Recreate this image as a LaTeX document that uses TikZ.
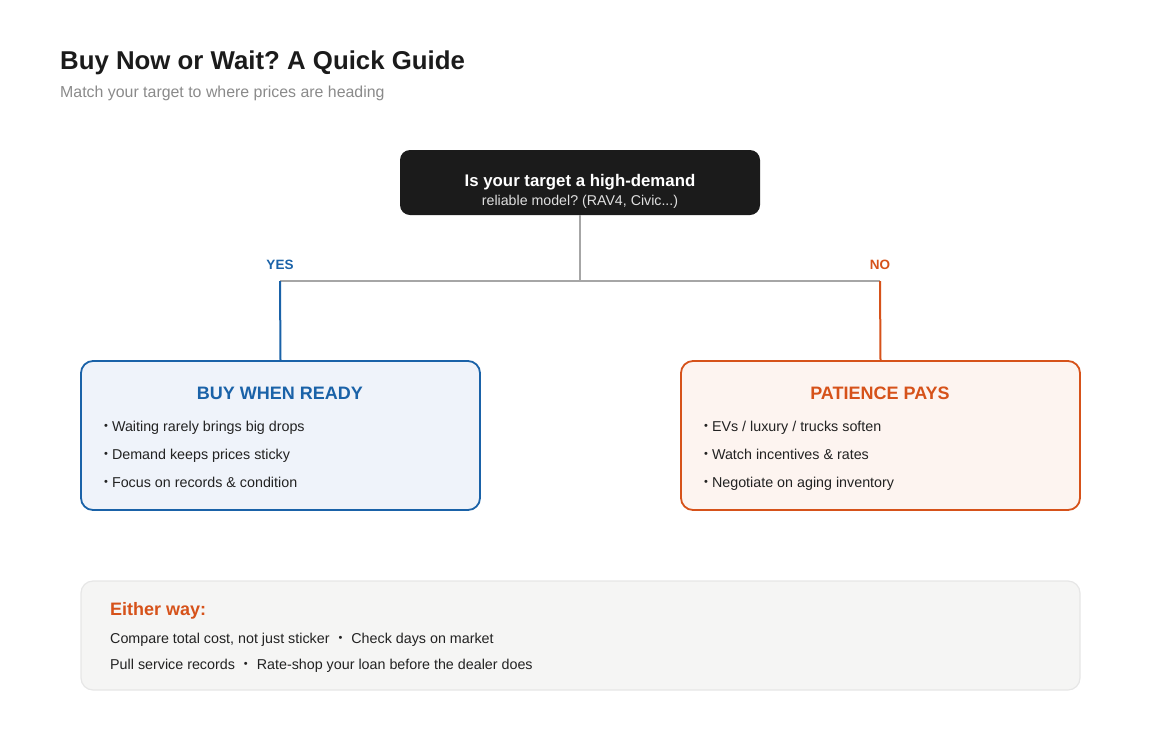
\documentclass[tikz,border=0pt]{standalone}
\usepackage{fontspec}
\setmainfont{Liberation Sans}
\usepackage{xcolor}
\usetikzlibrary{positioning}
\definecolor{guideink}{HTML}{1B1B1B}
\definecolor{guidegray}{HTML}{8A8A8A}
\definecolor{guideline}{HTML}{A6A6A6}
\definecolor{guideblue}{HTML}{1A62A8}
\definecolor{guideorange}{HTML}{D6521A}
\definecolor{bluefill}{HTML}{EFF3FA}
\definecolor{orangefill}{HTML}{FDF4F0}
\definecolor{tipfill}{HTML}{F5F5F4}
\definecolor{tipdraw}{HTML}{E6E6E6}
\definecolor{bodyink}{HTML}{222222}
\frenchspacing
\newcommand\dotmark{\raisebox{1.2pt}{\fontsize{11}{12}\selectfont•}}

\begin{document}
\begin{tikzpicture}[
  x=1pt, y=-1pt,
  headline/.style={anchor=base west, inner sep=0pt, font=\fontsize{25.8}{30}\selectfont\bfseries, text=guideink},
  subline/.style={anchor=base west, inner sep=0pt, font=\fontsize{15.9}{19}\selectfont, text=guidegray},
  question/.style={fill=guideink, rounded corners=10pt, minimum width=360pt, minimum height=65pt},
  asktext/.style={inner sep=0pt, anchor=base},
  choice/.style={rounded corners=12pt, line width=1.8pt, minimum width=399pt, minimum height=149pt},
  choicehead/.style={inner sep=0pt, anchor=base, font=\fontsize{18}{21}\selectfont\bfseries},
  bullet/.style={anchor=base west, inner sep=0pt, font=\fontsize{14.3}{17}\selectfont, text=bodyink},
  branch/.style={font=\fontsize{13.5}{15}\selectfont\bfseries, inner sep=0pt, anchor=base},
  stem/.style={draw=guideline, line width=1.6pt},
  leg/.style={line width=2pt}
]
  \useasboundingbox (0,0) rectangle (1160,740);

  \node[headline] (title) at (60,69) {Buy Now or Wait? A Quick Guide};
  \node[subline] (subtitle) at (60,97) {Match your target to where prices are heading};

  % decision
  \node[question] (ask) at (580,182.5) {};
  \node[asktext, text=white, font=\fontsize{16.8}{20}\selectfont\bfseries] (askline1) at (580,186)
    {Is your target a high-demand};
  \node[asktext, text=black!12, font=\fontsize{14.2}{17}\selectfont] (askline2) at (580,205)
    {reliable model? (RAV4, Civic...)};

  \coordinate (split) at (580,281);
  \coordinate (yesturn) at (280,281);
  \coordinate (noturn) at (880,281);

  \node[choice, draw=guideblue, fill=bluefill] (buybox) at (280.5,435.5) {};
  \node[choice, draw=guideorange, fill=orangefill] (waitbox) at (880.5,435.5) {};

  \node[branch, text=guideblue] (yes) at (280,269) {YES};
  \node[branch, text=guideorange] (no) at (880,269) {NO};

  \draw[stem] (ask.south) -- (split);
  \draw[stem] (yesturn) -- (noturn);
  \draw[leg, guideblue] (yesturn) -- (buybox.north);
  \draw[leg, guideorange] (noturn) -- (waitbox.north);

  % yes side
  \node[choicehead, text=guideblue] (buyhead) at (280,399) {BUY WHEN READY};
  \foreach \txt [count=\i] in {Waiting rarely brings big drops,
                               Demand keeps prices sticky,
                               Focus on records \& condition}
    \node[bullet] (buy\i) at (104,403+28*\i) {\dotmark\hspace{4pt}\txt};

  % no side
  \node[choicehead, text=guideorange] (waithead) at (880,399) {PATIENCE PAYS};
  \foreach \txt [count=\i] in {EVs / luxury / trucks soften,
                               Watch incentives \& rates,
                               Negotiate on aging inventory}
    \node[bullet] (wait\i) at (704,403+28*\i) {\dotmark\hspace{4pt}\txt};

  % either way
  \node[fill=tipfill, draw=tipdraw, line width=1.2pt, rounded corners=12pt,
        minimum width=999pt, minimum height=109pt] (tipbox) at (580.5,635.5) {};
  \node[anchor=base west, inner sep=0pt, font=\fontsize{18}{21}\selectfont\bfseries,
        text=guideorange] (tiphead) at (110,615) {Either way:};
  \node[bullet] (tip1) at (110,643)
    {Compare total cost, not just sticker\hspace{9pt}\dotmark\hspace{9pt}Check days on market};
  \node[bullet] (tip2) at (110,669)
    {Pull service records\hspace{9pt}\dotmark\hspace{9pt}Rate-shop your loan before the dealer does};
\end{tikzpicture}
\end{document}
